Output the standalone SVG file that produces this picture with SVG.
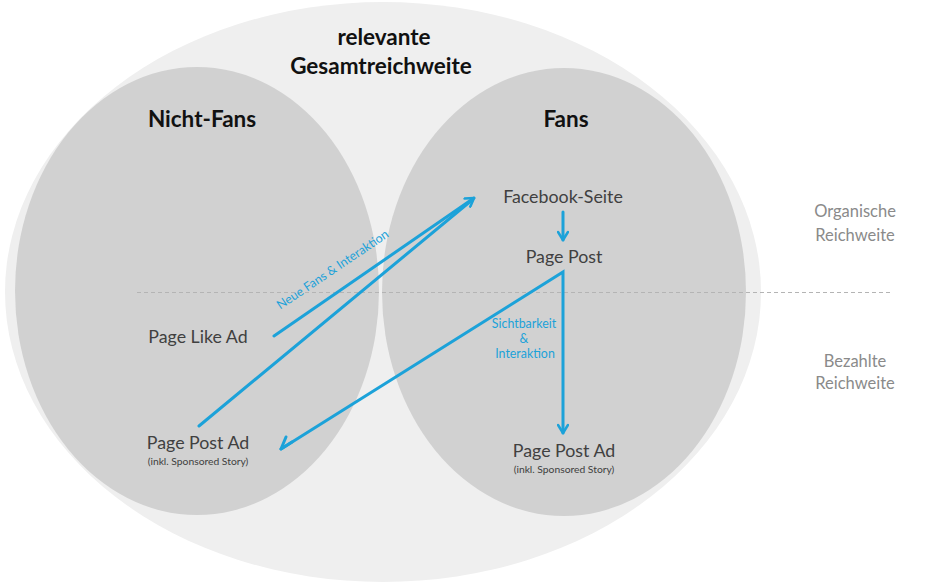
<svg xmlns="http://www.w3.org/2000/svg" width="945" height="584" viewBox="0 0 945 584">
<defs>
<style>
.t{font-family:Lato,"Open Sans",sans-serif;fill:#404040;text-anchor:middle}
.h{font-weight:bold;font-size:22.5px;fill:#111}
.n{font-size:17.8px}
.s{font-size:10.3px}
.side{font-size:16.5px;fill:#8a8a8a}
.lbl{font-family:Lato,"Open Sans",sans-serif;font-size:12.4px;fill:#1ca2d9;text-anchor:middle}
.c{stroke:#1ca2d9;stroke-width:3;fill:none;stroke-linecap:round}
</style>
<marker id="ah" viewBox="0 0 12 12" refX="10" refY="6" markerWidth="12" markerHeight="12" markerUnits="userSpaceOnUse" orient="auto">
<path d="M2,1 L10,6 L2,11" fill="none" stroke="#1ca2d9" stroke-width="2.6" stroke-linecap="round" stroke-linejoin="round"/>
</marker>
</defs>
<rect width="945" height="584" fill="#fff"/>
<g id="gesamt">
<ellipse cx="383" cy="292" rx="378" ry="290" fill="#efefef"/>
<text class="t h" x="384" y="45">relevante</text>
<text class="t h" x="381" y="74">Gesamtreichweite</text>
</g>
<g id="nichtfans">
<ellipse cx="197" cy="291" rx="182" ry="224" fill="#d1d1d1"/>
<text class="t h" x="202" y="127">Nicht-Fans</text>
</g>
<g id="fans">
<ellipse cx="564" cy="292" rx="182" ry="224" fill="#d1d1d1"/>
<text class="t h" x="566" y="127">Fans</text>
</g>
<line x1="137" y1="292.5" x2="893" y2="292.5" stroke="#b4b4b4" stroke-width="1" stroke-dasharray="4,3"/>
<g id="facebook-seite"><text class="t n" x="563" y="203">Facebook-Seite</text></g>
<g id="page-post"><text class="t n" x="564" y="263">Page Post</text></g>
<g id="page-like-ad"><text class="t n" x="198" y="343">Page Like Ad</text></g>
<g id="page-post-ad-left">
<text class="t n" x="198" y="449">Page Post Ad</text>
<text class="t s" x="198" y="465">(inkl. Sponsored Story)</text>
</g>
<g id="page-post-ad-right">
<text class="t n" x="564" y="457">Page Post Ad</text>
<text class="t s" x="564" y="473">(inkl. Sponsored Story)</text>
</g>
<g id="organisch">
<text class="t side" x="855" y="217">Organische</text>
<text class="t side" x="855" y="241">Reichweite</text>
</g>
<g id="bezahlt">
<text class="t side" x="855" y="367">Bezahlte</text>
<text class="t side" x="855" y="389">Reichweite</text>
</g>
<g id="connectors">
<line class="c" x1="274" y1="336" x2="474" y2="198" marker-end="url(#ah)"/>
<line class="c" x1="199" y1="426" x2="472" y2="200"/>
<line class="c" x1="563" y1="212" x2="563" y2="240" marker-end="url(#ah)"/>
<polyline class="c" points="281,449 563,272 563,433" marker-end="url(#ah)"/>
<path class="c" d="M281,449 L292,442 M281,449 L286,437" stroke-linejoin="round"/>
<text class="lbl" x="335" y="273" transform="rotate(-34 335 273)">Neue Fans &amp; Interaktion</text>
<text class="lbl" x="524" y="328">Sichtbarkeit</text>
<text class="lbl" x="524" y="343">&amp;</text>
<text class="lbl" x="525" y="358">Interaktion</text>
</g>
</svg>
